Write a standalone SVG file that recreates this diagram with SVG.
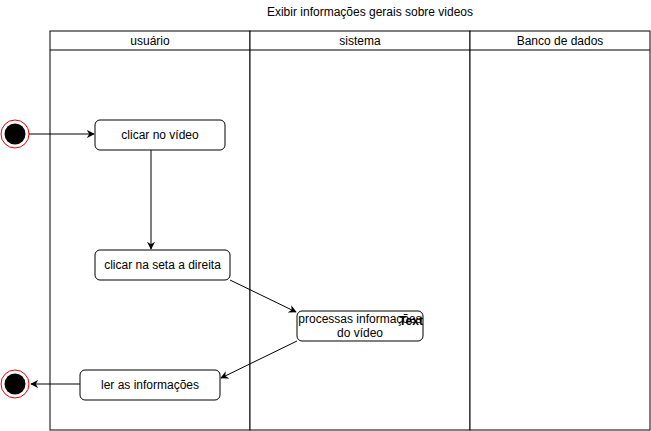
<svg xmlns="http://www.w3.org/2000/svg" width="651" height="431" viewBox="0 0 651 431">
<defs>
<marker id="arr" viewBox="0 0 10 10" refX="9" refY="5" markerWidth="8" markerHeight="8" markerUnits="userSpaceOnUse" orient="auto">
<path d="M0,0 L10,5 L0,10 L3,5 Z" fill="#000"/>
</marker>
<style>
text{font-family:"Liberation Sans",Arial,sans-serif;font-size:12px;fill:#000}
.lane{fill:#fff;stroke:#000;stroke-width:1}
.act{fill:#fff;stroke:#000;stroke-width:1}
.edge{fill:none;stroke:#000;stroke-width:1;marker-end:url(#arr)}
.c{text-anchor:middle}
</style>
</defs>
<rect width="651" height="431" fill="#fff"/>
<text x="370" y="16" class="c">Exibir informações gerais sobre videos</text>
<g id="pool">
<rect class="lane" x="50" y="31" width="200" height="399"/>
<rect class="lane" x="250" y="31" width="220" height="399"/>
<rect class="lane" x="470" y="31" width="180" height="399"/>
<line x1="50" y1="50" x2="650" y2="50" stroke="#000"/>
<text x="150" y="45" class="c">usuário</text>
<text x="360" y="45" class="c">sistema</text>
<text x="560" y="45" class="c">Banco de dados</text>
</g>
<g id="connectors">
<line class="edge" x1="29" y1="134" x2="94" y2="134"/>
<line class="edge" x1="151" y1="150" x2="151" y2="249"/>
<line class="edge" x1="230" y1="280" x2="296" y2="312"/>
<line class="edge" x1="297" y1="341" x2="221" y2="378"/>
<line class="edge" x1="80" y1="384" x2="31" y2="384"/>
</g>
<g id="start">
<circle cx="15" cy="134" r="14" fill="#fff" stroke="#e00" stroke-width="1"/>
<circle cx="15" cy="134" r="10.5" fill="#000"/>
</g>
<g id="clicar-video">
<rect class="act" x="95" y="120" width="130" height="30" rx="5"/>
<text x="160" y="139" class="c">clicar no vídeo</text>
</g>
<g id="clicar-seta">
<rect class="act" x="95" y="250" width="135" height="30" rx="5"/>
<text x="162.5" y="269" class="c">clicar na seta a direita</text>
</g>
<g id="processas">
<rect class="act" x="297" y="311" width="126" height="30" rx="5"/>
<text x="360" y="323" class="c">processas informações</text>
<text x="360" y="337" class="c">do vídeo</text>
<text x="411" y="325" class="c" style="font-weight:bold">Text</text>
</g>
<g id="ler">
<rect class="act" x="80" y="370" width="140" height="30" rx="5"/>
<text x="150" y="389" class="c">ler as informações</text>
</g>
<g id="end">
<circle cx="15" cy="384" r="14" fill="#fff" stroke="#e00" stroke-width="1"/>
<circle cx="15" cy="384" r="10.5" fill="#000"/>
</g>
</svg>
